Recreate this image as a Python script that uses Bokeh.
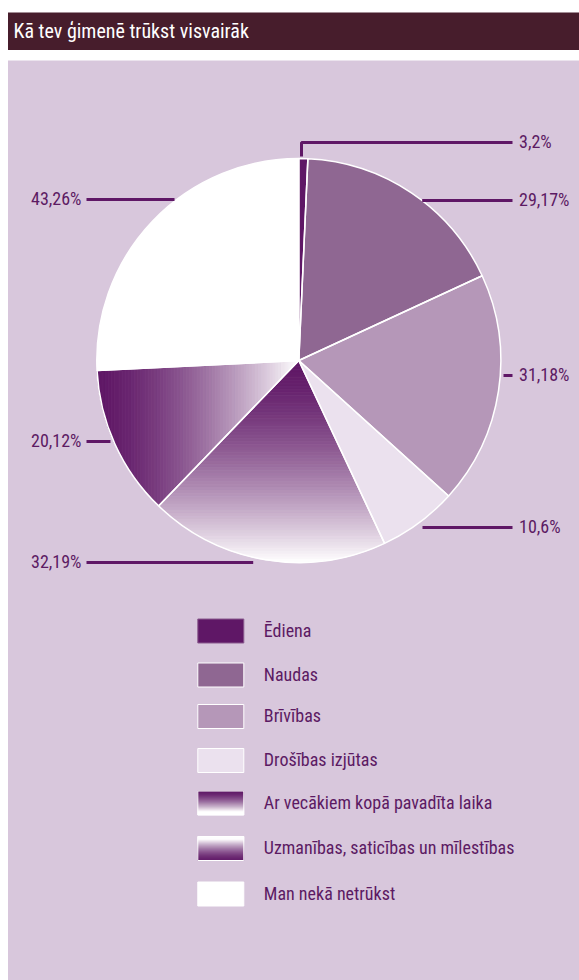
import math
from bokeh.plotting import figure
from bokeh.models import Range1d
from bokeh.core.properties import value
from bokeh.embed import file_html
from bokeh.resources import INLINE

# ---------------- data ----------------
title = "Kā tev ģimenē trūkst visvairāk"
categories = ["Ēdiena", "Naudas", "Brīvības", "Drošības izjūtas",
              "Ar vecākiem kopā pavadīta laika",
              "Uzmanības, saticības un mīlestības", "Man nekā netrūkst"]
label_texts = ["3,2%", "29,17%", "31,18%", "10,6%", "32,19%", "20,12%", "43,26%"]
# slice sizes as drawn in the picture (the first slice is drawn much thinner than its label)
slice_values = [1.2, 29.17, 31.18, 10.6, 32.19, 20.12, 43.26]
solid_colors = ["#5f1766", "#8f6792", "#b597b8", "#ebe1ee", None, None, "#ffffff"]
gradient_kind = [None, None, None, None, "vertical", "horizontal", None]

# ---------------- style / layout ----------------
W, H = 579, 980
FONT = "Roboto Condensed"
DARK = (95, 23, 102)
TEXT_COL = "#5c1a63"
BG = "#d8c7dc"
BAR = "#471d2c"

def fx(px):
    return px

def fy(py):
    return H - py

p = figure(width=W, height=H, output_backend="svg", toolbar_location=None,
           x_range=Range1d(0, W), y_range=Range1d(0, H), min_border=0,
           background_fill_color="white", border_fill_color="white")
p.axis.visible = False
p.grid.visible = False
p.outline_line_color = None

# title bar and panel
p.quad(left=[fx(7.5)], right=[W], bottom=[fy(49.5)], top=[fy(12)], fill_color=BAR, line_color=None)
p.quad(left=[fx(7.5)], right=[W], bottom=[0], top=[fy(60)], fill_color=BG, line_color=None)
p.text(x=[fx(13)], y=[fy(30.5)], text=[title], text_color="white",
       text_font=value(FONT), text_font_size="20px", text_baseline="middle")

# ---------------- pie ----------------
cx, cy, R = fx(298.3), fy(360), 202.0
total = sum(slice_values)
starts, ends = [], []
acc = 0.0
for v in slice_values:
    a0 = math.pi / 2 - 2 * math.pi * acc / total
    acc += v
    a1 = math.pi / 2 - 2 * math.pi * acc / total
    starts.append(a1)   # anticlockwise from a1 to a0
    ends.append(a0)

def mix(t):
    t = max(0.0, min(1.0, t)) ** 1.5
    r = int(round(DARK[0] + (255 - DARK[0]) * t))
    g = int(round(DARK[1] + (255 - DARK[1]) * t))
    b = int(round(DARK[2] + (255 - DARK[2]) * t))
    return "#%02x%02x%02x" % (r, g, b)

def wedge_poly(a_lo, a_hi, n=120):
    pts = [(cx, cy)]
    for i in range(n + 1):
        a = a_lo + (a_hi - a_lo) * i / n
        pts.append((cx + R * math.cos(a), cy + R * math.sin(a)))
    return pts

def clip(poly, axis, lim, keep_greater):
    out = []
    m = len(poly)
    for i in range(m):
        P, Q = poly[i], poly[(i + 1) % m]
        pin = (P[axis] >= lim) if keep_greater else (P[axis] <= lim)
        qin = (Q[axis] >= lim) if keep_greater else (Q[axis] <= lim)
        if pin:
            out.append(P)
        if pin != qin:
            t = (lim - P[axis]) / (Q[axis] - P[axis])
            out.append((P[0] + (Q[0] - P[0]) * t, P[1] + (Q[1] - P[1]) * t))
    return out

for i, kind in enumerate(gradient_kind):
    if kind is None:
        p.wedge(x=[cx], y=[cy], radius=R, start_angle=starts[i], end_angle=ends[i],
                fill_color=solid_colors[i], line_color=None)
    else:
        poly = wedge_poly(starts[i], ends[i])
        xs_l, ys_l, cols = [], [], []
        nb = 70
        if kind == "vertical":
            top, bot = cy, cy - R
            for k in range(nb):
                y_hi = top - (top - bot) * k / nb
                y_lo = top - (top - bot) * (k + 1) / nb
                q = clip(clip(poly, 1, y_lo, True), 1, y_hi, False)
                if len(q) >= 3:
                    xs_l.append([pt[0] for pt in q]); ys_l.append([pt[1] for pt in q])
                    cols.append(mix((k + 0.5) / nb))
        else:
            left, right = cx - R, cx
            for k in range(nb):
                x_lo = left + (right - left) * k / nb
                x_hi = left + (right - left) * (k + 1) / nb
                q = clip(clip(poly, 0, x_lo, True), 0, x_hi, False)
                if len(q) >= 3:
                    xs_l.append([pt[0] for pt in q]); ys_l.append([pt[1] for pt in q])
                    cols.append(mix((k + 0.5) / nb))
        p.patches(xs=xs_l, ys=ys_l, fill_color=cols, line_color=cols, line_width=0.8)

# white separators
p.wedge(x=[cx] * len(slice_values), y=[cy] * len(slice_values), radius=R,
        start_angle=starts, end_angle=ends, fill_color=None,
        line_color="white", line_width=1.5)

# ---------------- leader lines & labels ----------------
LINE_COL = "#5f1766"
label_y = [142, 200, 375, 527, 562, 441, 199]
label_side = ["r", "r", "r", "r", "l", "l", "l"]
inner_x = [301, 421.7, 503, 422, 252.7, 110, 174]
for i in range(len(label_texts)):
    y = fy(label_y[i])
    if label_side[i] == "r":
        if i == 0:
            p.line(x=[fx(301), fx(301), fx(512)], y=[fy(156), y, y],
                   line_color=LINE_COL, line_width=3)
        else:
            p.line(x=[fx(inner_x[i]), fx(512)], y=[y, y], line_color=LINE_COL, line_width=3)
        p.text(x=[fx(518.5)], y=[y + 1], text=[label_texts[i]], text_color=TEXT_COL,
               text_font=value(FONT), text_font_size="18px", text_baseline="middle",
               text_align="left")
    else:
        p.line(x=[fx(86), fx(inner_x[i])], y=[y, y], line_color=LINE_COL, line_width=3)
        p.text(x=[fx(81)], y=[y + 1], text=[label_texts[i]], text_color=TEXT_COL,
               text_font=value(FONT), text_font_size="18px", text_baseline="middle",
               text_align="right")

# ---------------- legend ----------------
row_y = [630.5, 674.5, 716, 760, 802.5, 848, 893.5]
sw_l, sw_r = fx(197.3), fx(243.3)
for i, name in enumerate(categories):
    yc = fy(row_y[i])
    top, bot = yc + 12, yc - 12
    kind = gradient_kind[i]
    if kind is None:
        p.quad(left=[sw_l], right=[sw_r], bottom=[bot], top=[top],
               fill_color=solid_colors[i], line_color="white" if i else "#8a5a8e",
               line_width=1)
    else:
        nb = 24
        ls, rs, bs, ts, cs = [], [], [], [], []
        for k in range(nb):
            y_hi = top - 24 * k / nb
            y_lo = top - 24 * (k + 1) / nb
            t = (k + 0.5) / nb
            if i == 5:
                t = 1 - t
            ls.append(sw_l); rs.append(sw_r); bs.append(y_lo); ts.append(y_hi)
            cs.append(mix(t * 1.15))
        p.quad(left=ls, right=rs, bottom=bs, top=ts, fill_color=cs, line_color=cs,
               line_width=0.6)
        p.quad(left=[sw_l], right=[sw_r], bottom=[bot], top=[top],
               fill_color=None, line_color="white", line_width=1)
    p.text(x=[fx(263.3)], y=[yc + 1], text=[name], text_color=TEXT_COL,
           text_font=value(FONT), text_font_size="18px", text_baseline="middle")

open("out.html", "w").write(file_html(p, INLINE))
